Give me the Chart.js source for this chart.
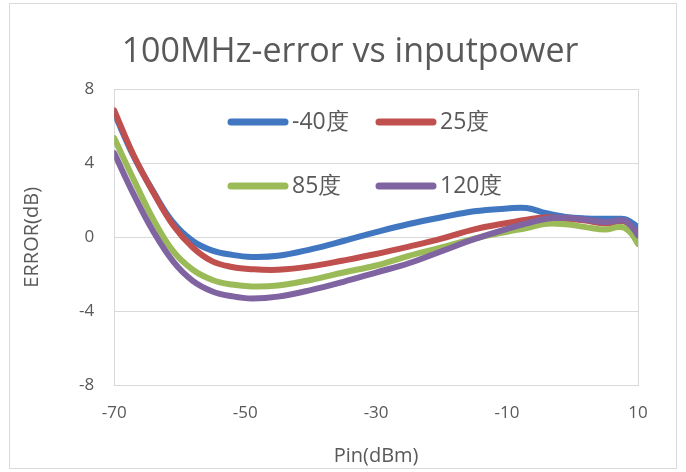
<!DOCTYPE html>
<html>
<head>
<meta charset="utf-8">
<script src="https://cdn.jsdelivr.net/npm/chart.js@4"></script>
<style>
  html, body { margin: 0; padding: 0; background: #fff; }
  #wrap { position: relative; width: 686px; height: 472px; }
  #frame { position: absolute; left: 9px; top: 3px; width: 668px; height: 466px; border: 1px solid #d9d9d9; box-sizing: border-box; pointer-events: none; }
</style>
</head>
<body>
<div id="wrap">
  <canvas id="chart" width="686" height="472"></canvas>
  <div id="frame"></div>
</div>
<script>
// --- DATA ---
const pinValues = [-70, -67, -64, -61, -58, -55, -52, -49, -45, -40, -35, -30, -25, -20, -15, -10, -7, -4, -1, 2, 5, 7, 8, 9, 10];
const seriesLabels = ["-40度", "25度", "85度", "120度"];
const errMinus40 = [6.7, 4.35, 2.45, 0.8, -0.2, -0.72, -0.95, -1.06, -1.0, -0.65, -0.2, 0.28, 0.72, 1.08, 1.4, 1.55, 1.58, 1.3, 1.1, 1.02, 1.0, 1.0, 0.98, 0.8, 0.55];
const err25 = [6.85, 4.4, 2.4, 0.65, -0.55, -1.3, -1.6, -1.72, -1.75, -1.57, -1.25, -0.9, -0.5, -0.07, 0.43, 0.77, 0.95, 1.08, 1.0, 0.9, 0.75, 0.85, 0.85, 0.55, 0.15];
const err85 = [5.35, 3.1, 0.95, -0.75, -1.75, -2.3, -2.55, -2.65, -2.6, -2.3, -1.9, -1.52, -1.0, -0.55, -0.07, 0.3, 0.5, 0.73, 0.7, 0.55, 0.42, 0.55, 0.5, 0.2, -0.36];
const err120 = [4.54, 2.3, 0.3, -1.3, -2.35, -2.92, -3.18, -3.3, -3.2, -2.85, -2.4, -1.9, -1.4, -0.75, -0.1, 0.45, 0.75, 1.0, 1.05, 0.95, 0.82, 0.9, 0.9, 0.6, 0.1];
const seriesColors = ["#4177c1", "#c0504d", "#9bbb59", "#8064a2"];
const xTicks = [-70, -50, -30, -10, 10];
const yTicks = [-8, -4, 0, 4, 8];
const chartTitle = "100MHz-error vs inputpower";

const FONT = "'Open Sans', sans-serif";
const TEXT_COLOR = "#595959";
const GRID_COLOR = "#d9d9d9";

// --- HELPERS ---
function toPoints(ys) {
  return pinValues.map((x, i) => ({ x, y: ys[i] }));
}

function lineSet(label, ys, color, order) {
  return {
    label, data: toPoints(ys), borderColor: color, backgroundColor: color,
    borderWidth: 6, pointRadius: 0, tension: 0.4, order, borderCapStyle: "round"
  };
}

// title + legend (2 rows x 2 columns inside the plot)
const overlayText = {
  id: "overlayText",
  afterDraw(chart) {
    const ctx = chart.ctx;
    ctx.save();
    ctx.fillStyle = TEXT_COLOR;
    ctx.font = "34px " + FONT;
    ctx.textAlign = "center";
    ctx.textBaseline = "middle";
    ctx.fillText(chartTitle, 350, 52);

    const cells = [[228, 122], [376, 122], [228, 186], [376, 186]];
    ctx.font = "23px " + FONT;
    ctx.textAlign = "left";
    chart.data.datasets.forEach((ds, i) => {
      const [x, y] = cells[i];
      ctx.strokeStyle = ds.borderColor;
      ctx.lineWidth = 7;
      ctx.lineCap = "round";
      ctx.beginPath();
      ctx.moveTo(x + 3, y);
      ctx.lineTo(x + 57, y);
      ctx.stroke();
      ctx.fillStyle = TEXT_COLOR;
      ctx.fillText(ds.label, x + 64, y);
    });
    ctx.restore();
  }
};

// --- CHART ---
new Chart(document.getElementById("chart"), {
  type: "line",
  data: {
    datasets: [
      lineSet(seriesLabels[0], errMinus40, seriesColors[0], 4),
      lineSet(seriesLabels[1], err25, seriesColors[1], 3),
      lineSet(seriesLabels[2], err85, seriesColors[2], 2),
      lineSet(seriesLabels[3], err120, seriesColors[3], 1)
    ]
  },
  options: {
    responsive: false,
    animation: false,
    layout: { padding: { left: 20, right: 48, top: 89, bottom: 4 } },
    plugins: {
      legend: { display: false },
      tooltip: { enabled: false },
      title: { display: false }
    },
    scales: {
      x: {
        type: "linear", min: -70, max: 10,
        afterBuildTicks: axis => { axis.ticks = xTicks.map(v => ({ value: v })); },
        grid: {
          color: ctx => (ctx.tick && (ctx.tick.value === -70 || ctx.tick.value === 10)) ? GRID_COLOR : "rgba(0,0,0,0)",
          drawTicks: false
        },
        border: { color: GRID_COLOR },
        ticks: { color: TEXT_COLOR, font: { family: FONT, size: 17 }, padding: 17, maxRotation: 0 },
        title: { display: true, text: "Pin(dBm)", color: TEXT_COLOR, font: { family: FONT, size: 20 }, padding: { top: 4, bottom: 0 } }
      },
      y: {
        min: -8, max: 8,
        afterBuildTicks: axis => { axis.ticks = yTicks.map(v => ({ value: v })); },
        grid: { color: GRID_COLOR, drawTicks: false },
        border: { color: GRID_COLOR },
        ticks: { color: TEXT_COLOR, font: { family: FONT, size: 17 }, padding: 20 },
        title: { display: true, text: "ERROR(dB)", color: TEXT_COLOR, font: { family: FONT, size: 20 }, padding: { top: 0, bottom: 15 } }
      }
    }
  },
  plugins: [overlayText]
});
</script>
</body>
</html>
